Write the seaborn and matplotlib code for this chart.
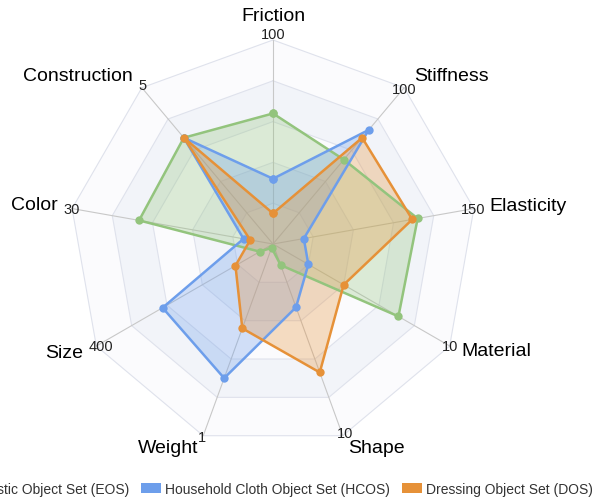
import numpy as np
import pandas as pd
import matplotlib
matplotlib.use('Agg')
import matplotlib.pyplot as plt
import matplotlib.patches as mpatches
import seaborn as sns

# axes of the radar, clockwise from the top
categories = ['Friction', 'Stiffness', 'Elasticity', 'Material', 'Shape',
              'Weight', 'Size', 'Color', 'Construction']
axis_max = [100, 100, 150, 10, 10, 1, 400, 30, 5]
tick_labels = ['100', '100', '150', '10', '10', '1', '400', '30', '5']

# values
eos = [64, 54, 108, 7.1, 1.1, 0.02, 30, 20, 3.4]
hcos = [32, 73, 23, 2.0, 3.3, 0.70, 250, 4.4, 3.4]
dos = [15, 68, 104, 4.0, 6.7, 0.44, 85, 3.4, 3.4]

set_names = ['Elastic Object Set (EOS)',
             'Household Cloth Object Set (HCOS)',
             'Dressing Object Set (DOS)']
colors = ['#93c47d', '#6d9eeb', '#e69138']

sns.set_theme(style='white')
plt.rcParams['font.family'] = ['Liberation Sans', 'DejaVu Sans']

n = len(categories)
theta = np.arange(n) * 2 * np.pi / n
theta_closed = np.append(theta, 2 * np.pi)

# long form table, normalised to each axis max, polygon closed
rows = []
for name, vals in zip(set_names, [eos, hcos, dos]):
    norm = [v / m for v, m in zip(vals, axis_max)]
    norm.append(norm[0])
    for t, r in zip(theta_closed, norm):
        rows.append({'set': name, 'theta': t, 'r': r})
df = pd.DataFrame(rows)

fig = plt.figure(figsize=(5.97, 5.02), dpi=100)
# centre at (273, 245) px, radius 204 px
cx, cy, rad = 273 / 597, (502 - 245) / 502, 204
ax = fig.add_axes([cx - rad / 597, cy - rad / 502, 2 * rad / 597, 2 * rad / 502],
                  projection='polar')
ax.set_theta_offset(np.pi / 2)
ax.set_theta_direction(-1)
ax.set_ylim(0, 1)
ax.grid(False)
ax.spines['polar'].set_visible(False)
ax.set_xticks([])
ax.set_yticks([])
ax.patch.set_alpha(0)

# banded polygon background
levels = [1.0, 0.8, 0.6, 0.4, 0.2]
band_cols = ['#fbfbfd', '#f2f4f9', '#fbfbfd', '#f2f4f9', '#fbfbfd']
for lv, bc in zip(levels, band_cols):
    ax.fill(theta_closed, [lv] * (n + 1), color=bc, lw=0, zorder=0)
for lv in levels:
    ax.plot(theta_closed, [lv] * (n + 1), color='#dfe2ec', lw=0.8,
            zorder=1, clip_on=False)
for t in theta:
    ax.plot([t, t], [0, 1], color='#c8c8c8', lw=0.8, zorder=1, clip_on=False)

# filled areas
for i, name in enumerate(set_names):
    sub = df[df['set'] == name]
    ax.fill(sub['theta'], sub['r'], color=colors[i], alpha=0.3, lw=0,
            zorder=2 + i)

sns.lineplot(data=df, x='theta', y='r', hue='set', palette=colors,
             sort=False, estimator=None, marker='o', markersize=6,
             markeredgewidth=0, linewidth=1.8, legend=False, ax=ax, zorder=6)
ax.set_xlabel('')
ax.set_ylabel('')

# axis labels and max ticks
label_pos = [((0, 24), 'center'), ((10, 12), 'left'), ((15, 3), 'left'),
             ((12, -5), 'left'), ((5, -12), 'left'), ((-5, -12), 'right'),
             ((-13, -6), 'right'), ((-14, 4), 'right'), ((-9, 12), 'right')]
tick_off = [(0, 6), (0, -1), (-1, 0), (0, 0), (2, 3), (-1, -1), (5, 0),
            (0, 0), (1, 3)]
for t, cat, tl, (off, ha), toff in zip(theta, categories, tick_labels,
                                       label_pos, tick_off):
    ax.annotate(cat, xy=(t, 1), xytext=off, textcoords='offset pixels',
                ha=ha, va='center', fontsize=14, color='black',
                annotation_clip=False)
    ax.annotate(tl, xy=(t, 1), xytext=toff, textcoords='offset pixels',
                ha='center', va='center', fontsize=10.5, color='#222222',
                annotation_clip=False)

handles = [mpatches.Patch(facecolor=c, edgecolor='none') for c in colors]
fig.legend(handles, set_names, loc='center', bbox_to_anchor=(0.457, 0.024),
           ncol=3, frameon=False, fontsize=10, handlelength=1.4,
           handleheight=0.7, handletextpad=0.3, columnspacing=0.9,
           labelcolor='#333333')

fig.savefig('out.png', dpi=100)
